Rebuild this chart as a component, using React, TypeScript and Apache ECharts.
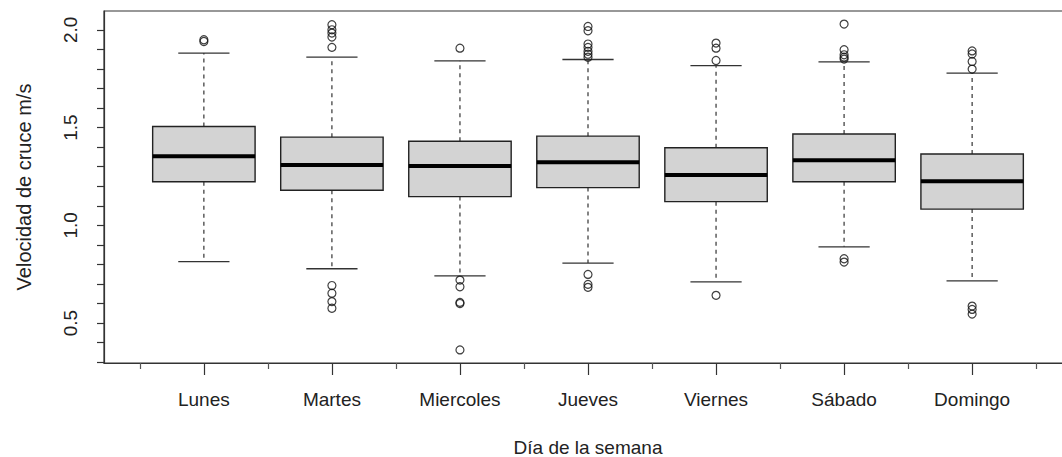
import React, { useEffect, useRef } from "react";
import * as echarts from "echarts";

// ---- Data ----
const days = ["Lunes", "Martes", "Miercoles", "Jueves", "Viernes", "Sábado", "Domingo"];

// [lower whisker, Q1, median, Q3, upper whisker]
const lowerWhisker = [0.814, 0.778, 0.742, 0.807, 0.711, 0.89, 0.716];
const q1 = [1.223, 1.179, 1.147, 1.193, 1.121, 1.223, 1.083];
const medians = [1.353, 1.309, 1.304, 1.323, 1.258, 1.333, 1.225];
const q3 = [1.505, 1.451, 1.43, 1.456, 1.397, 1.467, 1.365];
const upperWhisker = [1.881, 1.86, 1.841, 1.848, 1.817, 1.836, 1.778];

const outliersLunes = [1.949, 1.94];
const outliersMartes = [2.026, 2.0, 1.983, 1.963, 1.91, 0.692, 0.653, 0.61, 0.576];
const outliersMiercoles = [1.906, 0.72, 0.686, 0.606, 0.6, 0.363];
const outliersJueves = [2.017, 1.995, 1.927, 1.91, 1.89, 1.875, 1.86, 0.749, 0.698, 0.683];
const outliersViernes = [1.932, 1.906, 1.843, 0.642];
const outliersSabado = [2.029, 1.898, 1.872, 1.86, 1.85, 0.829, 0.812];
const outliersDomingo = [1.892, 1.876, 1.838, 1.799, 0.587, 0.57, 0.546];

const yTickValues = [0.3, 0.4, 0.5, 0.6, 0.7, 0.8, 0.9, 1.0, 1.1, 1.2, 1.3, 1.4, 1.5, 1.6, 1.7, 1.8, 1.9, 2.0];
const yLabelValues = [0.5, 1.0, 1.5, 2.0];
const xMajorTicks = [1, 2, 3, 4, 5, 6, 7];
const xMinorTicks = [0.5, 1.5, 2.5, 3.5, 4.5, 5.5, 6.5, 7.5];

const xTitle = "Día de la semana";
const yTitle = "Velocidad de cruce m/s";

const FONT = "'Liberation Sans', Arial, sans-serif";
const INK = "#222";

export default function App() {
  const ref = useRef<HTMLDivElement>(null);

  useEffect(() => {
    if (!ref.current) return;
    const chart = echarts.init(ref.current, undefined, { renderer: "svg" });

    const boxData = days.map((_, i) => [
      i + 1,
      lowerWhisker[i],
      q1[i],
      medians[i],
      q3[i],
      upperWhisker[i],
    ]);

    const outlierGroups = [
      outliersLunes,
      outliersMartes,
      outliersMiercoles,
      outliersJueves,
      outliersViernes,
      outliersSabado,
      outliersDomingo,
    ];
    const outlierData: number[][] = [];
    outlierGroups.forEach((arr, i) => arr.forEach((v) => outlierData.push([i + 1, v])));

    const gridRect = {
      left: 104,
      top: 11,
      width: 968,
      height: 352,
      containLabel: false,
      outerBoundsMode: "none",
    };

    const option: any = {
      animation: false,
      backgroundColor: "#fff",
      textStyle: { fontFamily: FONT },
      grid: [
        { ...gridRect, show: true, borderColor: "#333", borderWidth: 1.2, backgroundColor: "transparent" },
        { ...gridRect, show: false },
      ],
      xAxis: [
        {
          type: "value",
          gridIndex: 0,
          min: 0.22,
          max: 7.78,
          position: "bottom",
          splitLine: { show: false },
          axisLine: { show: true, lineStyle: { color: "#333", width: 1.2 } },
          axisTick: { show: true, customValues: xMajorTicks, length: 12, lineStyle: { color: "#333", width: 1.2 } },
          axisLabel: {
            show: true,
            customValues: xMajorTicks,
            formatter: (v: number) => days[Math.round(v) - 1] ?? "",
            fontSize: 19,
            color: INK,
            fontFamily: FONT,
            margin: 27,
          },
          name: xTitle,
          nameLocation: "middle",
          nameGap: 75,
          nameTextStyle: { fontSize: 19, lineHeight: 18, color: INK, fontFamily: FONT },
        },
        {
          type: "value",
          gridIndex: 1,
          min: 0.22,
          max: 7.78,
          position: "bottom",
          splitLine: { show: false },
          axisLine: { show: false },
          axisTick: { show: true, customValues: xMinorTicks, length: 6, lineStyle: { color: "#555", width: 1.2 } },
          axisLabel: { show: false },
        },
      ],
      yAxis: [
        {
          type: "value",
          gridIndex: 0,
          min: 0.296,
          max: 2.096,
          splitLine: { show: false },
          axisLine: { show: true, lineStyle: { color: "#333", width: 1.2 } },
          axisTick: { show: true, customValues: yTickValues, length: 7, lineStyle: { color: "#333", width: 1.2 } },
          axisLabel: {
            show: true,
            customValues: yLabelValues,
            formatter: (v: number) => v.toFixed(1),
            rotate: 90,
            fontSize: 19,
            color: INK,
            fontFamily: FONT,
            margin: 24,
          },
          name: yTitle,
          nameLocation: "middle",
          nameRotate: 90,
          nameGap: 70,
          nameTextStyle: { fontSize: 20, color: INK, fontFamily: FONT },
        },
        {
          type: "value",
          gridIndex: 1,
          min: 0.296,
          max: 2.096,
          show: false,
        },
      ],
      series: [
        {
          type: "custom",
          xAxisIndex: 0,
          yAxisIndex: 0,
          data: boxData,
          encode: { x: 0, y: [1, 2, 3, 4, 5] },
          renderItem: (params: any, api: any) => {
            const x = api.value(0);
            const lo = api.value(1);
            const a = api.value(2);
            const m = api.value(3);
            const b = api.value(4);
            const hi = api.value(5);
            const halfBox = 0.4;
            const halfCap = 0.2;
            const pLo = api.coord([x, lo]);
            const pA = api.coord([x, a]);
            const pB = api.coord([x, b]);
            const pHi = api.coord([x, hi]);
            const pM = api.coord([x, m]);
            const left = api.coord([x - halfBox, b]);
            const right = api.coord([x + halfBox, a]);
            const capL = api.coord([x - halfCap, hi]);
            const capR = api.coord([x + halfCap, hi]);
            const capL2 = api.coord([x - halfCap, lo]);
            const capR2 = api.coord([x + halfCap, lo]);
            const dashed = { stroke: "#333", lineWidth: 1.2, lineDash: [4, 4] };
            const solid = { stroke: "#333", lineWidth: 1.3 };
            return {
              type: "group",
              children: [
                { type: "line", shape: { x1: pB[0], y1: pB[1], x2: pHi[0], y2: pHi[1] }, style: dashed },
                { type: "line", shape: { x1: pA[0], y1: pA[1], x2: pLo[0], y2: pLo[1] }, style: dashed },
                { type: "line", shape: { x1: capL[0], y1: capL[1], x2: capR[0], y2: capR[1] }, style: solid },
                { type: "line", shape: { x1: capL2[0], y1: capL2[1], x2: capR2[0], y2: capR2[1] }, style: solid },
                {
                  type: "rect",
                  shape: { x: left[0], y: left[1], width: right[0] - left[0], height: right[1] - left[1] },
                  style: { fill: "#d3d3d3", stroke: "#222", lineWidth: 1.4 },
                },
                {
                  type: "line",
                  shape: { x1: left[0], y1: pM[1], x2: right[0], y2: pM[1] },
                  style: { stroke: "#000", lineWidth: 4 },
                },
              ],
            };
          },
        },
        {
          type: "scatter",
          xAxisIndex: 0,
          yAxisIndex: 0,
          data: outlierData,
          symbol: "circle",
          symbolSize: 8,
          itemStyle: { color: "rgba(255,255,255,0)", borderColor: "#111", borderWidth: 1.2 },
        },
      ],
    };

    chart.setOption(option);
    return () => chart.dispose();
  }, []);

  return (
    <div
      ref={ref}
      style={{ position: "fixed", left: 0, top: 0, width: 1062, height: 457, background: "#fff" }}
    />
  );
}
